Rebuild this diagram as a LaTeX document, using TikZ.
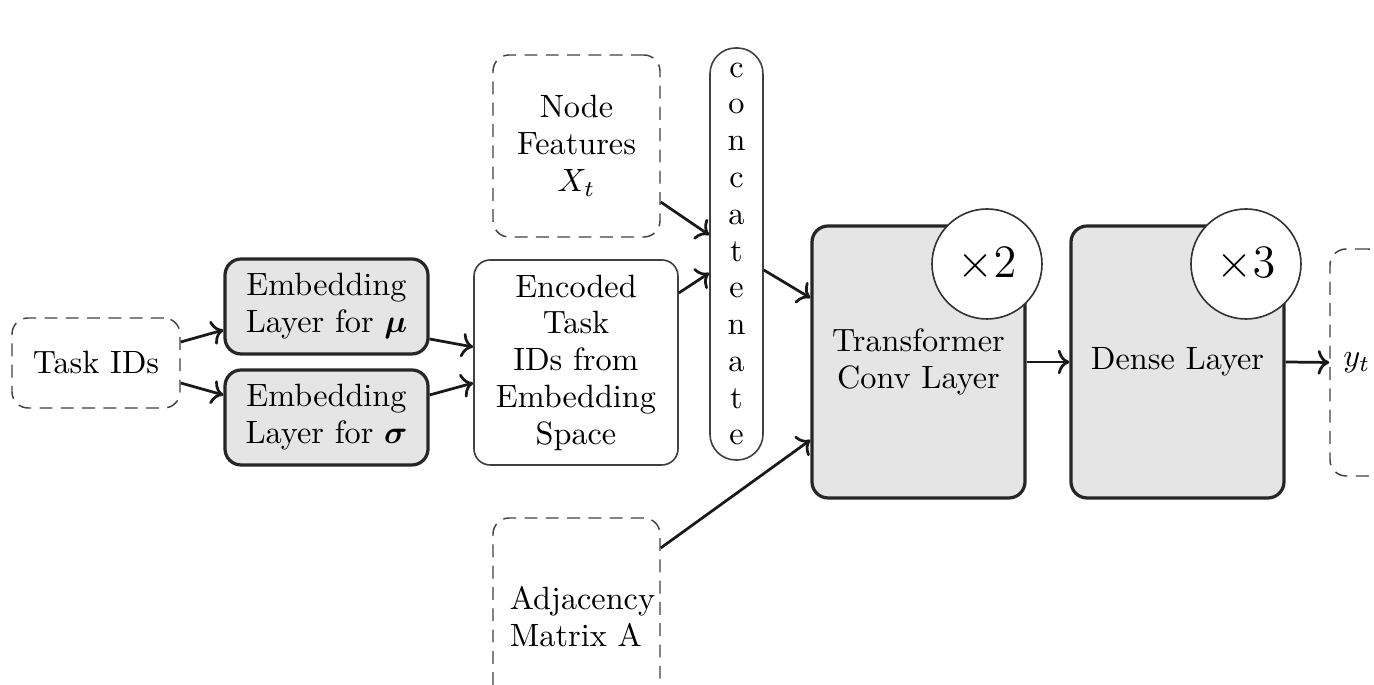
\documentclass[tikz,border=0pt]{standalone}
\usepackage{amsmath,amssymb,bm}
\usetikzlibrary{calc,arrows.meta}
\newdimen\pxu \pxu=0.31pt
\begin{document}
\begin{tikzpicture}[x=0.31pt,y=-0.31pt,
  every node/.style={font=\fontsize{10}{11.4}\selectfont, align=center, inner sep=0pt},
  dashbox/.style={draw=black!75, dash pattern=on 4pt off 2.6pt, line width=0.45pt, rounded corners=5pt},
  graybox/.style={draw=black!85, fill=black!10, line width=1pt, rounded corners=5pt},
  plainbox/.style={draw=black!75, line width=0.5pt, rounded corners=5pt},
  rep/.style={circle, draw=black!80, fill=white, line width=0.5pt, minimum size={110*\pxu}, font=\Large},
  conn/.style={-{Computer Modern Rightarrow[length=3.6pt,width=7.6pt]}, draw=black!90, line width=0.85pt}
]
\useasboundingbox (0,0) rectangle (1374,685);
\clip (0,0) rectangle (1374,685);

\node[dashbox, minimum width={168*\pxu}, minimum height={90*\pxu}] (task) at (96,363) {Task IDs};
\node[graybox, minimum width={203*\pxu}, minimum height={95*\pxu}] (embmu) at (326.5,306.5) {Embedding\\Layer for $\bm{\mu}$};
\node[graybox, minimum width={203*\pxu}, minimum height={95*\pxu}] (embsig) at (326.5,417.5) {Embedding\\Layer for $\bm{\sigma}$};
\node[plainbox, minimum width={204*\pxu}, minimum height={205*\pxu}] (enc) at (576,362.5) {Encoded\\Task\\IDs from\\Embedding\\Space};
\node[dashbox, minimum width={167*\pxu}, minimum height={182*\pxu}] (feat) at (576.5,146) {Node\\Features\\$X_t$};
\node[dashbox, align=left, minimum width={167*\pxu}, minimum height={198*\pxu}] (adj) at (576.5,617) {\hspace*{3.7pt}Adjacency\\\hspace*{3.7pt}Matrix A};
\node[plainbox, rounded corners=8pt, minimum width={53*\pxu}, minimum height={412*\pxu}] (concat) at (736.5,254) {c\\o\\n\\c\\a\\t\\e\\n\\a\\t\\e};
\node[graybox, minimum width={213*\pxu}, minimum height={272*\pxu}] (trans) at (918.5,362) {Transformer\\Conv Layer};
\node[rep] (c2) at (987,264) {$\times 2$};
\node[graybox, minimum width={213*\pxu}, minimum height={272*\pxu}] (dense) at (1177.5,362) {Dense Layer};
\node[rep] (c3) at (1246,264) {$\times 3$};
\node[dashbox, minimum width={54*\pxu}, minimum height={227*\pxu}] (yt) at (1357,362.5) {$y_t$};

\draw[conn] ([yshift={21*\pxu}]task.east) -- ([yshift={-23.5*\pxu}]embmu.west);
\draw[conn] ([yshift={-20*\pxu}]task.east) -- ([yshift={22.5*\pxu}]embsig.west);
\draw[conn] ([yshift={-32.5*\pxu}]embmu.east) -- ([yshift={15.5*\pxu}]enc.west);
\draw[conn] ([yshift={22.5*\pxu}]embsig.east) -- ([yshift={-20.5*\pxu}]enc.west);
\draw[conn] ([yshift={69.5*\pxu}]enc.east) -- ([yshift={-19*\pxu}]concat.west);
\draw[conn] ([yshift={-56*\pxu}]feat.east) -- ([yshift={19*\pxu}]concat.west);
\draw[conn] ([yshift={-16*\pxu}]concat.east) -- ([yshift={64*\pxu}]trans.west);
\draw[conn] ([yshift={69*\pxu}]adj.east) -- ([yshift={-78*\pxu}]trans.west);
\draw[conn] (trans.east) -- (dense.west);
\draw[conn] (dense.east) -- (yt.west);
\end{tikzpicture}
\end{document}
